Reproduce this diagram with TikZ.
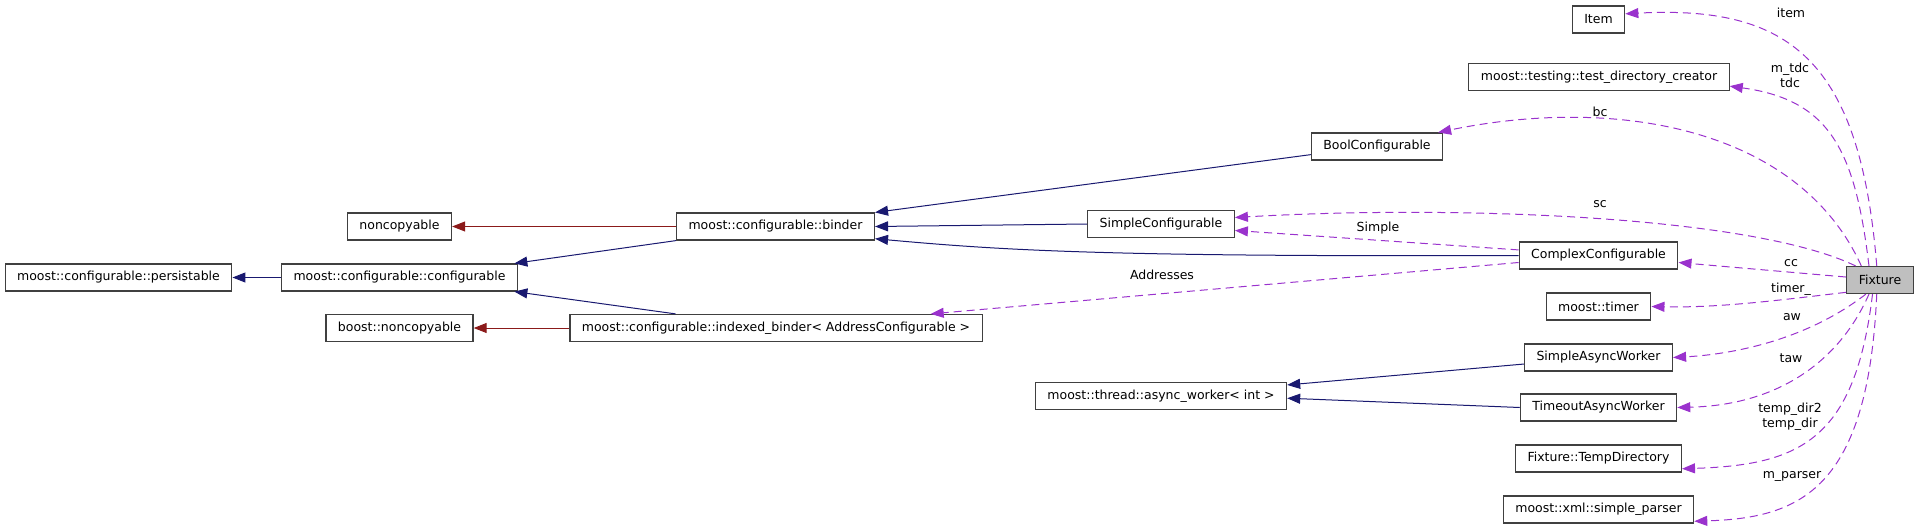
\documentclass[tikz,border=0pt]{standalone}
\usepackage{fontspec}
\setmainfont{DejaVu Sans}
\usepackage{tikz}
\usetikzlibrary{arrows.meta}
\definecolor{col1}{HTML}{191970}
\definecolor{col2}{HTML}{8B1A1A}
\definecolor{col3}{HTML}{9A32CD}
\definecolor{col4}{HTML}{BFBFBF}
\definecolor{col5}{HTML}{404040}

\begin{document}
\begin{tikzpicture}[x=1pt, y=-1pt]
    \tikzstyle{cls} += [draw=col5, fill=white, line width=1.2pt, rectangle, minimum height=27pt, inner xsep=12pt, inner ysep=0pt, font=\fontsize{12.5}{15}\selectfont];
    \tikzstyle{lbl} += [inner sep=0pt, align=center, font=\fontsize{12.5}{15}\selectfont];
    \useasboundingbox (0, 0) rectangle (1917, 528);
    \node (pers)  at ( 118.5, 277.5) [cls]{moost::configurable::persistable};
    \node (conf)  at ( 399.5, 277.5) [cls]{moost::configurable::configurable};
    \node (nonc)  at ( 399.5, 226.5) [cls]{noncopyable};
    \node (bnonc) at ( 399.5, 328.0) [cls]{boost::noncopyable};
    \node (bind)  at ( 775.5, 226.5) [cls]{moost::configurable::binder};
    \node (ibind) at ( 776.0, 328.0) [cls]{moost::configurable::indexed\_binder< AddressConfigurable >};
    \node (sconf) at (1161.0, 224.0) [cls]{SimpleConfigurable};
    \node (async) at (1161.0, 396.0) [cls]{moost::thread::async\_worker< int >};
    \node (bool)  at (1377.0, 146.5) [cls]{BoolConfigurable};
    \node (item)  at (1598.5,  19.5) [cls]{Item};
    \node (tdc)   at (1599.0,  77.0) [cls]{moost::testing::test\_directory\_creator};
    \node (cplx)  at (1598.5, 255.5) [cls]{ComplexConfigurable};
    \node (timer) at (1598.5, 306.5) [cls]{moost::timer};
    \node (saw)   at (1598.5, 357.5) [cls]{SimpleAsyncWorker};
    \node (taw)   at (1598.5, 407.5) [cls]{TimeoutAsyncWorker};
    \node (tmpd)  at (1598.5, 458.5) [cls]{Fixture::TempDirectory};
    \node (pars)  at (1598.5, 509.5) [cls]{moost::xml::simple\_parser};
    \node (fix)   at (1880.0, 280.0) [cls, fill=col4]{Fixture};

    \node (litem) at (1791,  13) [lbl]{item};
    \node (ltdc)  at (1790,  75) [lbl]{m\_tdc\\tdc};
    \node (lbc)   at (1600, 112) [lbl]{bc};
    \node (lsc)   at (1600, 204) [lbl]{sc};
    \node (lsimp) at (1378, 228) [lbl]{Simple};
    \node (laddr) at (1162, 275) [lbl]{Addresses};
    \node (lcc)   at (1791, 263) [lbl]{cc};
    \node (ltim)  at (1791, 289) [lbl]{timer\_};
    \node (law)   at (1792, 317) [lbl]{aw};
    \node (ltaw)  at (1791, 358) [lbl]{taw};
    \node (ltmp)  at (1790, 417) [lbl]{temp\_dir2\\temp\_dir};
    \node (lpars) at (1792, 476) [lbl]{m\_parser};

    % public inheritance
    \begin{scope}[col1, line width=1pt, -{Triangle[length=13pt, width=10pt]}]
      \draw (conf.west) -- (pers.east);
      \draw (bind.south west) -- (conf.7.5);
      \draw (ibind.172.5) -- (conf.-7.5);
      \draw (bool.187) -- (bind.north east);
      \draw (sconf.west) -- (bind.east);
      \draw (cplx.west) .. controls (1100, 257) and (1000, 250) .. (bind.-7);
      \draw (saw.185) -- (async.5);
      \draw (taw.west) -- (async.-1.5);
    \end{scope}

    % private inheritance
    \begin{scope}[col2, line width=1pt, -{Triangle[length=13pt, width=10pt]}]
      \draw (bind.west) -- (nonc.east);
      \draw (ibind.west) -- (bnonc.east);
    \end{scope}

    % members
    \begin{scope}[col3, line width=1pt, dash pattern=on 8pt off 5pt, -{Triangle[length=13pt, width=10pt]}]
      \draw (fix.103) .. controls (1860, 60) and (1790, 5) .. (item.12);
      \draw (fix.128) .. controls (1855, 150) and (1830, 100) .. (tdc.-4);
      \draw (fix.143) .. controls (1800, 130) and (1620, 95) .. (bool.13);
      \draw (fix.150) .. controls (1750, 215) and (1450, 205) .. (sconf.5);
      \draw (fix.175) -- (cplx.-5);
      \draw (fix.200) .. controls (1780, 300) and (1720, 308) .. (timer.east);
      \draw (fix.225) .. controls (1800, 345) and (1720, 355) .. (saw.east);
      \draw (fix.232) .. controls (1840, 360) and (1780, 405) .. (taw.east);
      \draw (fix.242) .. controls (1855, 440) and (1800, 465) .. (tmpd.-7);
      \draw (fix.257) .. controls (1868, 490) and (1800, 518) .. (pars.-7);
      \draw (cplx.176) -- (sconf.-5);
      \draw (cplx.185) -- ([xshift=-52pt]ibind.north east);
    \end{scope}
\end{tikzpicture}
\end{document}
